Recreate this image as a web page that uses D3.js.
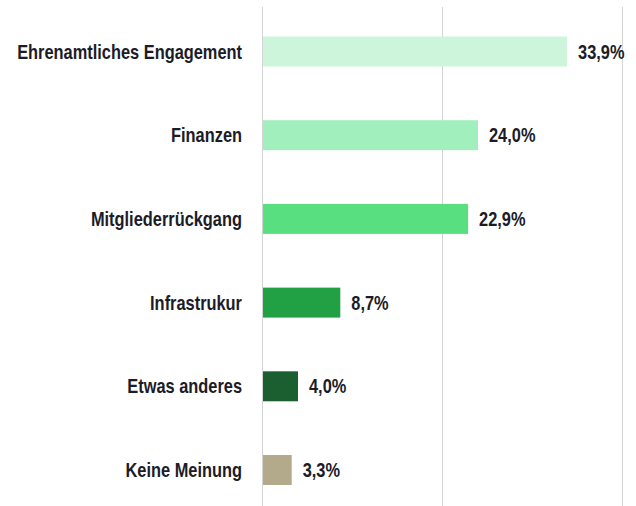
<!DOCTYPE html>
<html>
<head>
<meta charset="utf-8">
<script src="https://cdn.jsdelivr.net/npm/d3@7"></script>
<style>
  html, body { margin: 0; padding: 0; background: #fff; }
  svg { display: block; }
</style>
</head>
<body>
<svg id="chart" width="636" height="506"></svg>
<script>
const categories = ["Ehrenamtliches Engagement", "Finanzen", "Mitgliederrückgang", "Infrastrukur", "Etwas anderes", "Keine Meinung"];
const values = [33.9, 24.0, 22.9, 8.7, 4.0, 3.3];
const valueLabels = ["33,9%", "24,0%", "22,9%", "8,7%", "4,0%", "3,3%"];
const colors = ["#cdf5dc", "#a2efbe", "#58df80", "#22a044", "#1b5f31", "#b3aa8c"];
const gridTicks = [0, 20, 40];

const svg = d3.select("#chart");
const font = "'Liberation Sans', Arial, sans-serif";
const squeeze = 0.82;

const x = d3.scaleLinear().domain([0, 40]).range([262, 622]);
const y = d3.scaleBand().domain(categories).range([9.65, 511.85])
  .paddingInner(0.642).paddingOuter(0.321);

// gridlines
svg.append("g").selectAll("line").data(gridTicks).join("line")
  .attr("x1", d => Math.round(x(d)) + 0.5).attr("x2", d => Math.round(x(d)) + 0.5)
  .attr("y1", 7).attr("y2", 506)
  .attr("stroke", "#d4d4d4").attr("stroke-width", 1);

// bars
svg.append("g").selectAll("rect").data(categories).join("rect")
  .attr("x", x(0) + 1)
  .attr("y", d => y(d))
  .attr("width", (d, i) => x(values[i]) - x(0) - 1)
  .attr("height", y.bandwidth())
  .attr("fill", (d, i) => colors[i]);

// category labels
svg.append("g").selectAll("text").data(categories).join("text")
  .attr("transform", d => `translate(242,${y(d) + y.bandwidth() / 2}) scale(${squeeze},1)`)
  .attr("dy", "0.35em")
  .attr("text-anchor", "end")
  .attr("font-family", font)
  .attr("font-weight", "bold")
  .attr("font-size", 20)
  .attr("fill", "#1c1c28")
  .text(d => d);

// value labels
svg.append("g").selectAll("text").data(categories).join("text")
  .attr("transform", (d, i) => `translate(${x(values[i]) + 11},${y(d) + y.bandwidth() / 2}) scale(${squeeze},1)`)
  .attr("dy", "0.35em")
  .attr("font-family", font)
  .attr("font-weight", "bold")
  .attr("font-size", 20)
  .attr("fill", "#1c1c28")
  .text((d, i) => valueLabels[i]);
</script>
</body>
</html>
